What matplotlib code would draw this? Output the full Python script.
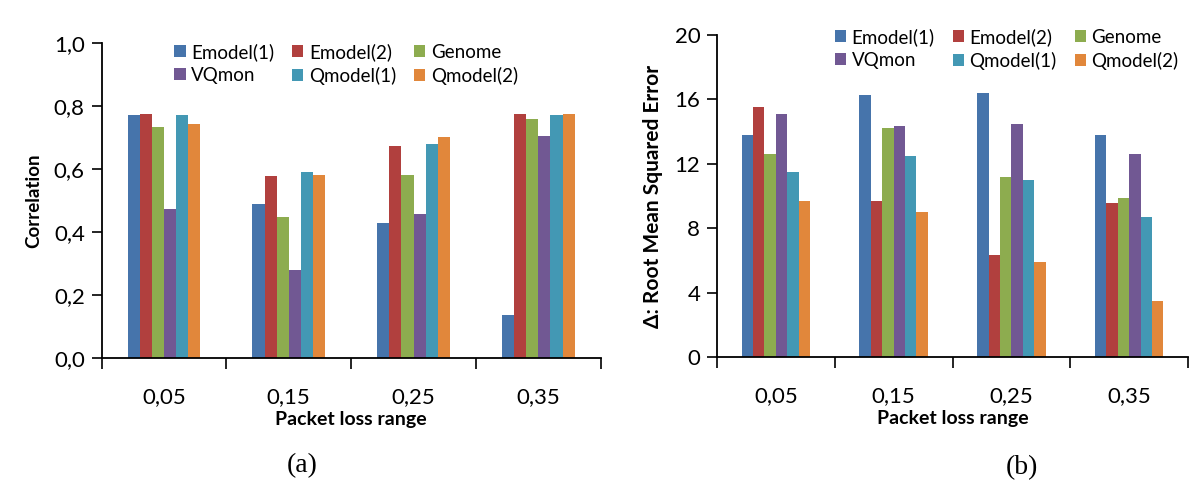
import matplotlib
matplotlib.use('Agg')
import matplotlib.pyplot as plt
import numpy as np

# data
categories = ['0,05', '0,15', '0,25', '0,35']
models = ['Emodel(1)', 'Emodel(2)', 'Genome', 'VQmon', 'Qmodel(1)', 'Qmodel(2)']
colors = ['#4674AB', '#B1403E', '#8DAC4F', '#715893', '#4398B4', '#E1873B']

corr_emodel1 = [0.771, 0.490, 0.430, 0.137]
corr_emodel2 = [0.776, 0.577, 0.673, 0.776]
corr_genome = [0.734, 0.446, 0.582, 0.760]
corr_vqmon = [0.472, 0.278, 0.456, 0.706]
corr_qmodel1 = [0.771, 0.592, 0.679, 0.771]
corr_qmodel2 = [0.743, 0.582, 0.701, 0.776]

rmse_emodel1 = [13.80, 16.28, 16.40, 13.80]
rmse_emodel2 = [15.53, 9.69, 6.32, 9.56]
rmse_genome = [12.62, 14.24, 11.21, 9.90]
rmse_vqmon = [15.09, 14.35, 14.45, 12.62]
rmse_qmodel1 = [11.52, 12.49, 10.98, 8.69]
rmse_qmodel2 = [9.69, 9.02, 5.90, 3.49]

corr_ticks = ['0,0', '0,2', '0,4', '0,6', '0,8', '1,0']
rmse_ticks = ['0', '4', '8', '12', '16', '20']

plt.rcParams['font.family'] = ['Lato', 'DejaVu Sans']


def _bar_panel(ax, series, ymax, yticks, ylabel, ylabel_size,
               legend_anchor):
    x = np.arange(len(categories))
    width = 0.097
    handles = []
    for i, (vals, name, col) in enumerate(zip(series, models, colors)):
        offset = (i - 2.5) * width
        h = ax.bar(x + offset, vals, width, color=col, label=name)
        handles.append(h)

    ax.set_xlim(-0.5, len(categories) - 0.5)
    ax.set_ylim(0, ymax)
    ax.set_yticks(np.linspace(0, ymax, len(yticks)))
    ax.set_yticklabels(yticks)
    ax.set_xticks(x)
    ax.set_xticklabels(categories)
    ax.set_xticks(np.arange(-0.5, len(categories)), minor=True)
    ax.tick_params(axis='x', which='major', length=0, pad=21, labelsize=16)
    ax.tick_params(axis='x', which='minor', length=8, width=1.2,
                   direction='out')
    ax.tick_params(axis='y', length=7, width=1.2, direction='out',
                   labelsize=16, pad=5)
    for side in ('top', 'right'):
        ax.spines[side].set_visible(False)
    for side in ('left', 'bottom'):
        ax.spines[side].set_linewidth(1.3)

    ax.set_xlabel('Packet loss range', fontsize=14, fontweight='bold',
                  labelpad=3)
    ax.set_ylabel(ylabel, fontsize=ylabel_size, fontweight='bold',
                  labelpad=8)

    # legend fills row-wise in the reference
    order = [0, 3, 1, 4, 2, 5]
    ax.legend([handles[k] for k in order], [models[k] for k in order],
              ncol=3, loc='upper left', bbox_to_anchor=legend_anchor,
              frameon=False, fontsize=13.5, handlelength=0.6,
              handleheight=0.6, handletextpad=0.3, columnspacing=0.95,
              labelspacing=0.3, borderaxespad=0, borderpad=0)


fig = plt.figure(figsize=(12, 4.95), dpi=100)

ax1 = fig.add_axes([0.0846, 0.277, 0.416, 0.636])
_bar_panel(ax1, [corr_emodel1, corr_emodel2, corr_genome, corr_vqmon,
                 corr_qmodel1, corr_qmodel2],
           1.0, corr_ticks, 'Correlation', 13.5, (0.146, 1.0))

ax2 = fig.add_axes([0.5975, 0.279, 0.3925, 0.650])
_bar_panel(ax2, [rmse_emodel1, rmse_emodel2, rmse_genome, rmse_vqmon,
                 rmse_qmodel1, rmse_qmodel2],
           20, rmse_ticks, '\u0394: Root Mean Squared Error', 15,
           (0.25, 1.022))

fig.text(0.252, 0.06, '(a)', fontsize=20, family='Liberation Serif',
         ha='center', va='center')
fig.text(0.852, 0.056, '(b)', fontsize=20, family='Liberation Serif',
         ha='center', va='center')

fig.savefig('out.png', dpi=100)
